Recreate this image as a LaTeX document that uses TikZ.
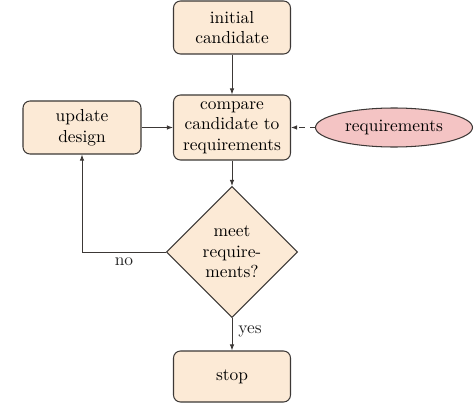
\documentclass[tikz,border=0pt]{standalone}
\usetikzlibrary{shapes.geometric,arrows.meta}
\definecolor{boxfill}{RGB}{252,234,214}
\definecolor{ellfill}{RGB}{244,196,196}
\definecolor{edge}{RGB}{60,56,54}
\begin{document}
\begin{tikzpicture}[x=0.575pt,y=-0.575pt,
  font=\fontsize{10}{11.8}\selectfont,
  blockbox/.style={rectangle, draw=edge, line width=0.6pt, fill=boxfill, rounded corners=4pt, align=center, minimum width=117*0.575pt, inner sep=0pt},
  decision/.style={diamond, draw=edge, line width=0.6pt, fill=boxfill, align=center, minimum width=131*0.575pt, minimum height=131*0.575pt, inner sep=0pt},
  cloud/.style={ellipse, draw=edge, line width=0.6pt, fill=ellfill, minimum width=157*0.575pt, minimum height=39*0.575pt, inner sep=0pt},
  conn/.style={draw=edge, line width=0.5pt, -{Latex[length=3.5pt,width=2.6pt]}},
  lbl/.style={inner sep=0pt, text=black!85}]
\useasboundingbox (0,0) rectangle (474,404);
\node[blockbox, minimum height=53*0.575pt] (init) at (232,27.5) {initial\\candidate};
\node[blockbox, minimum height=65*0.575pt] (cmp) at (232,127.5) {compare\\candidate to\\requirements};
\node[blockbox, minimum height=53*0.575pt, minimum width=118*0.575pt] (upd) at (82,127.5) {update\\design};
\node[cloud] (req) at (394,127.5) {requirements};
\node[decision] (dec) at (232,252) {meet\\require-\\ments?};
\node[blockbox, minimum height=51*0.575pt] (stop) at (232,376.5) {stop};
\coordinate (corner) at (82,252);
\draw[conn] (init) -- (cmp);
\draw[conn] (cmp) -- (dec);
\draw[conn] (upd) -- (cmp);
\draw[conn, dashed] (req) -- (cmp);
\draw[conn] (dec) -- (corner) -- (upd);
\draw[conn] (dec) -- (stop);
\node[lbl] (no) at (124,262) {no};
\node[lbl] (yes) at (250,331) {yes};
\end{tikzpicture}
\end{document}
